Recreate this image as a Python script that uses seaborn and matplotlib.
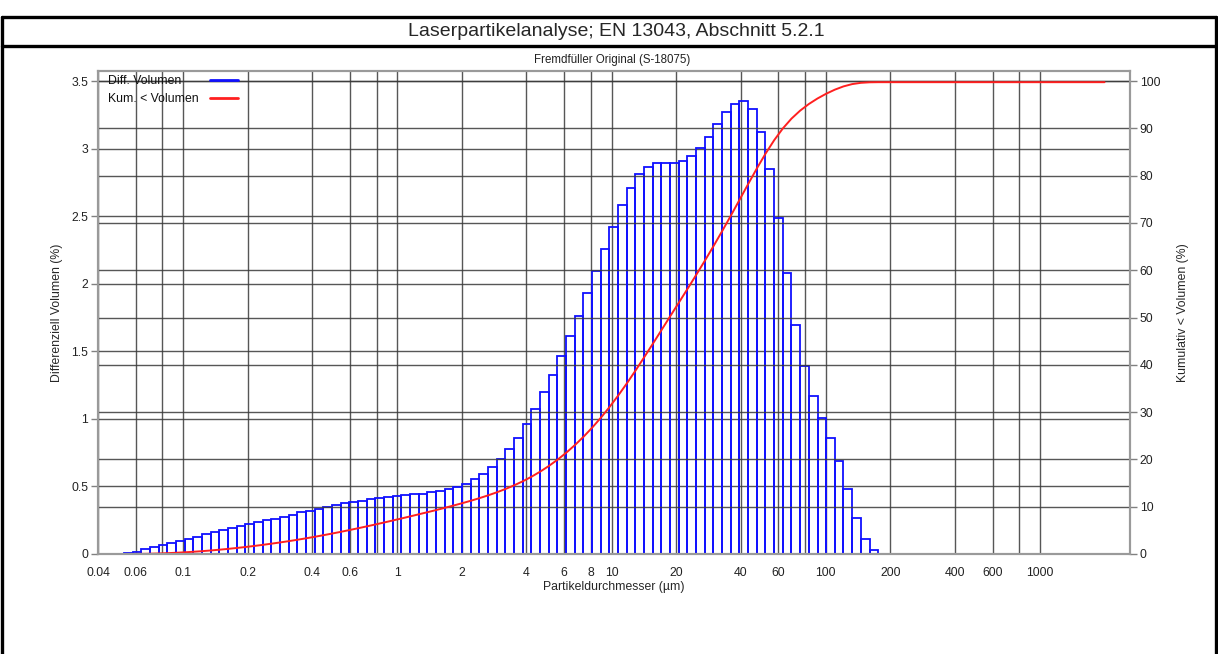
import numpy as np
import pandas as pd
import seaborn as sns
import matplotlib.pyplot as plt
from matplotlib.lines import Line2D

# channel edges of the laser diffraction instrument (µm)
channel_edges = [
    0.0439, 0.0482, 0.0529, 0.0581, 0.0637, 0.0700, 0.0768, 0.0843, 0.0925, 0.1016,
    0.1115, 0.1224, 0.1343, 0.1475, 0.1619, 0.1777, 0.1950, 0.2141, 0.2350, 0.2579,
    0.2831, 0.3108, 0.3411, 0.3744, 0.4110, 0.4511, 0.4952, 0.5436, 0.5966, 0.6549,
    0.7189, 0.7891, 0.8662, 0.9507, 1.044, 1.146, 1.257, 1.380, 1.515, 1.663,
    1.825, 2.004, 2.199, 2.414, 2.650, 2.909, 3.193, 3.505, 3.847, 4.223,
    4.635, 5.088, 5.585, 6.130, 6.729, 7.386, 8.107, 8.899, 9.768, 10.72,
    11.77, 12.92, 14.18, 15.57, 17.09, 18.75, 20.59, 22.60, 24.80, 27.23,
    29.88, 32.80, 36.01, 39.52, 43.38, 47.62, 52.27, 57.38, 62.98, 69.13,
    75.88, 83.29, 91.43, 100.4, 110.2, 120.9, 132.7, 145.7, 159.9, 175.5,
    192.7,
]

# differential volume per channel (%)
diff_volume = [
    0.000, 0.003, 0.008, 0.017, 0.035, 0.050, 0.064, 0.084, 0.099, 0.113,
    0.128, 0.146, 0.161, 0.175, 0.190, 0.205, 0.220, 0.235, 0.249, 0.261,
    0.276, 0.291, 0.309, 0.321, 0.335, 0.348, 0.363, 0.375, 0.385, 0.395,
    0.405, 0.415, 0.424, 0.429, 0.437, 0.442, 0.444, 0.457, 0.469, 0.481,
    0.494, 0.518, 0.553, 0.592, 0.642, 0.701, 0.775, 0.859, 0.960, 1.071,
    1.197, 1.325, 1.468, 1.616, 1.764, 1.930, 2.097, 2.260, 2.423, 2.581,
    2.711, 2.813, 2.867, 2.897, 2.897, 2.897, 2.912, 2.946, 3.003, 3.084,
    3.183, 3.269, 3.331, 3.353, 3.294, 3.126, 2.852, 2.490, 2.080, 1.693,
    1.392, 1.172, 1.007, 0.861, 0.688, 0.484, 0.270, 0.109, 0.027, 0.000,
]

size_min, size_max = 0.04, 2000  # measuring range (µm)

x_ticks = [0.04, 0.06, 0.08, 0.1, 0.2, 0.4, 0.6, 0.8, 1, 2, 4, 6, 8, 10,
           20, 40, 60, 80, 100, 200, 400, 600, 800, 1000]
x_labels = ["0.04", "0.06", "", "0.1", "0.2", "0.4", "0.6", "", "1", "2", "4", "6", "8", "10",
            "20", "40", "60", "", "100", "200", "400", "600", "", "1000"]
left_ticks = [0, 0.5, 1, 1.5, 2, 2.5, 3, 3.5]
left_labels = ["0", "0.5", "1", "1.5", "2", "2.5", "3", "3.5"]
right_ticks = list(range(0, 101, 10))
legend_labels = ["Diff. Volumen", "Kum. < Volumen"]
blue, red = "#1010ff", "#ff2020"

sns.set_style("white")
plt.rcParams["font.family"] = ["Liberation Sans", "DejaVu Sans"]

edges = np.array(channel_edges)
hist_df = pd.DataFrame({
    "size": np.sqrt(edges[:-1] * edges[1:]),
    "vol": diff_volume,
})
cum_df = pd.DataFrame({
    "size": [size_min] + channel_edges + [size_max],
    "cum": [0, 0] + list(np.cumsum(diff_volume)) + [np.sum(diff_volume)],
})

W, H = 1218, 654
fig = plt.figure(figsize=(W / 100, H / 100), dpi=100)
ax = fig.add_axes([98 / W, (H - 554) / H, 1032 / W, 483 / H])

sns.histplot(data=hist_df, x="size", weights="vol", bins=list(np.log10(edges)),
             log_scale=True, element="bars", fill=False, color=blue,
             linewidth=1.3, ax=ax)

ymax = 3.575
ax.set_xlim(size_min, 2630)
ax.set_ylim(0, ymax)
ax.set_xticks(x_ticks)
ax.set_xticklabels(x_labels)
ax.minorticks_off()
ax.set_yticks(left_ticks)
ax.set_yticklabels(left_labels)
ax.set_xlabel("Partikeldurchmesser (µm)", fontsize=8.8, labelpad=2)
ax.set_ylabel("Differenziell Volumen (%)", fontsize=8.8, labelpad=6)
ax.grid(True, color="#3a3a3a", linewidth=1.0, alpha=0.85)
ax.set_axisbelow(True)

ax2 = ax.twinx()
sns.lineplot(data=cum_df, x="size", y="cum", color=red, linewidth=1.4, ax=ax2)
ax2.set_ylim(0, ymax * 100 / 3.5)
ax2.set_yticks(right_ticks)
ax2.set_ylabel("Kumulativ < Volumen (%)", fontsize=8.8, labelpad=12)
ax2.grid(True, axis="y", color="#3a3a3a", linewidth=1.0, alpha=0.85)
ax2.grid(False, axis="x")

for a in (ax, ax2):
    for s in a.spines.values():
        s.set_color("#9a9a9a")
        s.set_linewidth(1.5)
    a.tick_params(direction="out", length=5, width=1, color="#808080",
                  labelsize=8.8, labelcolor="#222222", pad=2)
ax.tick_params(axis="x", pad=4)
ax.tick_params(axis="y", right=False)
ax2.tick_params(axis="y", left=False, right=True)

# legend: labels left aligned, line samples in a column to the right
for i, (lab, col) in enumerate(zip(legend_labels, [blue, red])):
    y = 1 - (10 + 17.5 * i) / 483
    ax2.text(10 / 1032, y, lab, transform=ax2.transAxes, ha="left", va="center",
             fontsize=8.8, color="#111111")
    ax2.add_line(Line2D([112 / 1032, 140 / 1032], [y + 1 / 483] * 2,
                        transform=ax2.transAxes, color=col, linewidth=2))

# page frame with header row
for x0, y0, x1, y1 in [(2, 17, 1216, 17), (2, 46, 1216, 46), (2, 17, 2, H), (1216, 17, 1216, H)]:
    fig.add_artist(Line2D([x0 / W, x1 / W], [1 - y0 / H, 1 - y1 / H],
                          transform=fig.transFigure, color="black", linewidth=2.4))
fig.text(616 / W, 1 - 32 / H, "Laserpartikelanalyse; EN 13043, Abschnitt 5.2.1",
         ha="center", va="center", fontsize=14)
fig.text(612 / W, 1 - 60 / H, "Fremdfüller Original (S-18075)",
         ha="center", va="center", fontsize=8.3, color="#222222")

fig.savefig("out.png", dpi=100)
